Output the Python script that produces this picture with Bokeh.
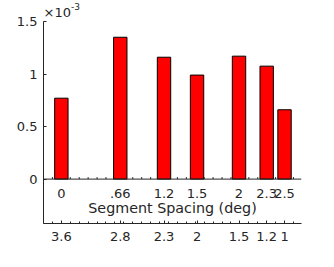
from bokeh.plotting import figure
from bokeh.models import Range1d, FixedTicker, Span, LinearAxis
from bokeh.core.properties import value
from bokeh.embed import file_html
from bokeh.resources import INLINE

# ---- data ----
spacing_pos = [0.0, 0.66, 1.15, 1.52, 1.99, 2.3, 2.5]          # bar positions (segment spacing, deg)
top_labels = ["0", ".66", "1.2", "1.5", "2", "2.3", "2.5"]        # labels along the baseline
bottom_labels = ["3.6", "2.8", "2.3", "2", "1.5", "1.2", "1"]     # labels on the lower axis
values_e3 = [0.77, 1.35, 1.16, 0.99, 1.17, 1.075, 0.66]           # bar heights, x 10^-3
y_ticks = [0, 0.5, 1, 1.5]
x_minor = [-0.2, -0.1, 0.0, 0.1, 0.2, 0.3, 0.4, 0.5, 0.6, 0.7, 0.8, 0.9, 1.0, 1.1, 1.2,
           1.3, 1.4, 1.5, 1.6, 1.7, 1.8, 1.9, 2.0, 2.1, 2.2, 2.3, 2.4, 2.5, 2.6]

X_LO, X_HI = -0.2, 2.69
Y_LO, Y_HI = -0.4226, 1.5
Y_TOP = 1.6808   # extra room above the axis for the exponent label
TICK_LEN = 0.019  # baseline minor tick length (about 2 px)

TXT = "#262626"
FONT = "DejaVu Sans"

p = figure(width=326, height=259, output_backend="svg", toolbar_location=None,
           x_range=Range1d(X_LO, X_HI), y_range=Range1d(Y_LO, Y_TOP),
           min_border_left=43, min_border_right=25, min_border_top=2, min_border_bottom=36,
           x_axis_location=None, y_axis_location=None)
p.outline_line_color = None
p.xgrid.visible = False
p.ygrid.visible = False
p.background_fill_color = "white"
p.border_fill_color = "white"

# baseline minor ticks
p.segment(x0=x_minor, y0=[0] * len(x_minor), x1=x_minor, y1=[TICK_LEN] * len(x_minor),
          line_color=TXT, line_width=1)

# bars
p.vbar(x=spacing_pos, top=values_e3, bottom=0, width=0.15,
       fill_color="#FF0000", line_color="black", line_width=1)

# baseline at zero
p.add_layout(Span(location=0, dimension="width", line_color=TXT, line_width=1))

# labels along baseline
p.text(x=spacing_pos, y=[0] * len(spacing_pos), text=top_labels,
       text_align="center", text_baseline="middle", y_offset=14.5,
       text_font=value(FONT), text_font_size="13px", text_color=TXT)

# x label inside the frame
p.text(x=[(X_LO + X_HI) / 2], y=[0], text=["Segment Spacing (deg)"],
       text_align="center", text_baseline="middle", y_offset=29,
       text_font=value(FONT), text_font_size="14.3px", text_color=TXT)

# exponent label
p.text(x=[X_LO], y=[Y_HI], text=["×10"], text_align="left", text_baseline="alphabetic",
       y_offset=-8.5, text_font=value(FONT), text_font_size="13px", text_color=TXT)
p.text(x=[X_LO], y=[Y_HI], text=["-3"], text_align="left", text_baseline="alphabetic",
       x_offset=27.4, y_offset=-15, text_font=value(FONT), text_font_size="9px",
       text_color=TXT)

# left axis
yax = LinearAxis(ticker=FixedTicker(ticks=y_ticks), bounds=(Y_LO, Y_HI),
                 major_label_overrides={0: "0", 0.5: "0.5", 1: "1", 1.5: "1.5"})
yax.major_tick_in = 3
yax.major_tick_out = 0
yax.minor_tick_in = 0
yax.minor_tick_out = 0
yax.major_label_standoff = 6
yax.axis_line_color = TXT
yax.major_tick_line_color = TXT
yax.major_label_text_color = TXT
yax.major_label_text_font = FONT
yax.major_label_text_font_size = "13px"
p.add_layout(yax, "left")

# bottom axis
xax = LinearAxis(ticker=FixedTicker(ticks=spacing_pos, minor_ticks=x_minor),
                 major_label_overrides={k: v for k, v in zip(spacing_pos, bottom_labels)})
xax.major_tick_in = 3
xax.major_tick_out = 0
xax.minor_tick_in = 2
xax.minor_tick_out = 0
xax.major_label_standoff = 8
xax.axis_line_color = TXT
xax.major_tick_line_color = TXT
xax.minor_tick_line_color = TXT
xax.major_label_text_color = TXT
xax.major_label_text_font = FONT
xax.major_label_text_font_size = "13px"
p.add_layout(xax, "below")

open("out.html", "w").write(file_html(p, INLINE))
